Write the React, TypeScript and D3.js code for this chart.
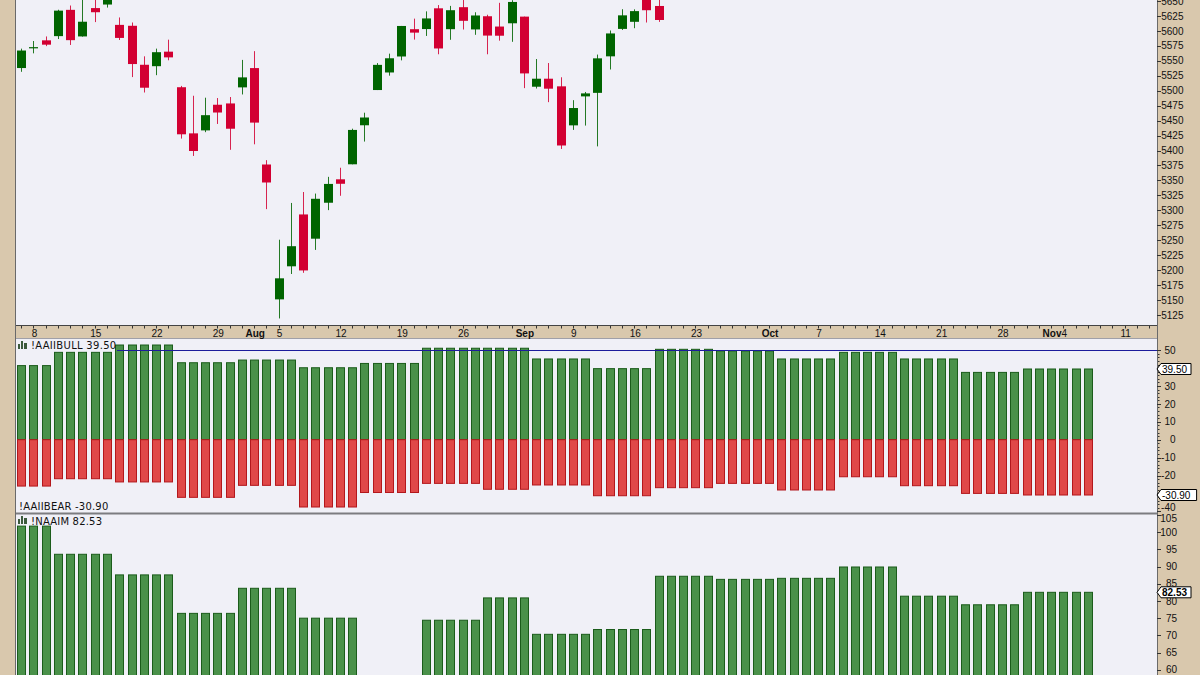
import React from "react";
import * as d3 from "d3";

// ---------- data ----------
const firstTradingDay = "2024-07-05";
const marketHolidays = ["2024-09-02"];

// S&P 500 daily OHLC (Jul 5 – Sep 18, 2024)
const candleOpen = [5537.91, 5572.75, 5584.24, 5591.26, 5635.21, 5590.76, 5638.16, 5644.09, 5610.07, 5608.56, 5543.37, 5541.0, 5565.3, 5505.84, 5428.7, 5433.67, 5476.55, 5478.73, 5505.59, 5537.84, 5376.63, 5151.14, 5206.42, 5293.13, 5252.57, 5312.7, 5351.88, 5376.98, 5442.22, 5501.13, 5530.5, 5557.23, 5602.88, 5603.09, 5637.77, 5602.89, 5639.66, 5602.47, 5624.51, 5607.3, 5612.74, 5623.89, 5506.68, 5520.08, 5507.33, 5442.07, 5490.51, 5496.42, 5557.48, 5603.34, 5615.21, 5655.51, 5641.68];
const candleHigh = [5570.33, 5583.11, 5590.75, 5635.39, 5642.45, 5655.56, 5666.94, 5669.67, 5622.49, 5614.05, 5557.5, 5570.36, 5585.34, 5508.04, 5491.59, 5488.32, 5487.74, 5489.46, 5551.51, 5566.16, 5383.89, 5250.89, 5312.34, 5330.64, 5328.03, 5356.0, 5371.2, 5436.5, 5463.22, 5546.23, 5561.98, 5608.3, 5620.51, 5632.68, 5643.22, 5641.82, 5651.62, 5631.18, 5627.03, 5646.95, 5651.37, 5623.89, 5552.99, 5546.3, 5522.47, 5484.2, 5497.91, 5560.41, 5600.71, 5636.27, 5636.05, 5670.81, 5689.75];
const candleLow = [5531.63, 5562.51, 5574.57, 5586.44, 5576.53, 5590.44, 5614.75, 5639.02, 5584.81, 5522.81, 5497.04, 5526.0, 5550.9, 5419.98, 5390.95, 5430.7, 5444.44, 5401.21, 5493.75, 5410.42, 5302.03, 5119.26, 5193.56, 5195.54, 5233.85, 5300.36, 5324.37, 5376.98, 5415.0, 5501.13, 5525.17, 5550.74, 5585.5, 5591.57, 5560.95, 5585.16, 5602.34, 5593.48, 5560.95, 5583.71, 5581.79, 5504.33, 5503.66, 5480.88, 5402.62, 5434.49, 5441.72, 5406.96, 5535.5, 5601.65, 5604.53, 5614.05, 5615.08];
const candleClose = [5567.19, 5572.85, 5576.98, 5633.91, 5584.54, 5615.35, 5631.22, 5667.2, 5588.27, 5544.59, 5505.0, 5564.41, 5555.74, 5427.13, 5399.22, 5459.1, 5463.54, 5436.44, 5522.3, 5446.68, 5346.56, 5186.33, 5240.03, 5199.5, 5319.31, 5344.16, 5344.39, 5434.43, 5455.21, 5543.22, 5554.25, 5608.25, 5597.12, 5620.85, 5570.64, 5634.61, 5616.84, 5625.8, 5592.18, 5591.96, 5648.4, 5528.93, 5520.07, 5503.41, 5408.42, 5471.05, 5495.52, 5554.13, 5595.76, 5626.02, 5633.09, 5634.58, 5618.26];

// weekly sentiment readings (each holds until the next reading)
const surveyWeeks = ["2024-07-03", "2024-07-10", "2024-07-17", "2024-07-24", "2024-07-31", "2024-08-07", "2024-08-14", "2024-08-21", "2024-08-28", "2024-09-04", "2024-09-11", "2024-09-18", "2024-09-25", "2024-10-02", "2024-10-09", "2024-10-16", "2024-10-23", "2024-10-30", "2024-11-06"];
const aaiiBull = [41.4, 48.8, 52.9, 43.0, 44.5, 40.2, 42.6, 51.1, 51.1, 45.1, 39.7, 50.5, 49.6, 45.1, 48.8, 45.1, 37.6, 39.5, 39.5];
const aaiiBear = [-25.9, -21.8, -23.6, -32.2, -25.5, -37.6, -29.5, -24.4, -27.7, -25.3, -31.3, -26.8, -24.4, -28.1, -20.7, -25.7, -30.0, -30.9, -30.9];
const naaim: (number | null)[] = [101.8, 93.6, 87.6, 76.4, 83.7, 75.0, null, 74.4, 80.9, 70.3, 71.7, 87.2, 86.3, 86.6, 89.9, 81.4, 78.9, 82.53, 82.53];
const lastBarDate = "2024-11-06";

const priceTicks = [5125, 5150, 5175, 5200, 5225, 5250, 5275, 5300, 5325, 5350, 5375, 5400, 5425, 5450, 5475, 5500, 5525, 5550, 5575, 5600, 5625, 5650];
const aaiiTicks = [50, 40, 30, 20, 10, 0, -10, -20, -30, -40];
const naaimTicks = [105, 100, 95, 90, 85, 80, 75, 70, 65, 60];
const dayTicks: [string, string][] = [["2024-07-08", "8"], ["2024-07-15", "15"], ["2024-07-22", "22"], ["2024-07-29", "29"], ["2024-08-05", "5"], ["2024-08-12", "12"], ["2024-08-19", "19"], ["2024-08-26", "26"], ["2024-09-09", "9"], ["2024-09-16", "16"], ["2024-09-23", "23"], ["2024-10-07", "7"], ["2024-10-14", "14"], ["2024-10-21", "21"], ["2024-10-28", "28"], ["2024-11-04", "4"], ["2024-11-11", "11"]];
const monthTicks: [string, string][] = [["2024-08-01", "Aug"], ["2024-09-03", "Sep"], ["2024-10-01", "Oct"], ["2024-11-01", "Nov"]];

// ---------- helpers ----------
function tradingDays(start: string, n: number): string[] {
  const out: string[] = [];
  const d = new Date(start + "T12:00:00Z");
  while (out.length < n) {
    const wd = d.getUTCDay();
    const iso = d.toISOString().slice(0, 10);
    if (wd !== 0 && wd !== 6 && !marketHolidays.includes(iso)) out.push(iso);
    d.setUTCDate(d.getUTCDate() + 1);
  }
  return out;
}

const days = tradingDays(firstTradingDay, 95);
const dayIndex = new Map(days.map((d, i) => [d, i]));
const nBars = (dayIndex.get(lastBarDate) as number) + 1;
const weekOf = (d: string) => d3.bisectRight(surveyWeeks, d) - 1;

// ---------- layout ----------
const W = 1200, H = 675;
const plotL = 16, plotR = 1157;
const priceBottom = 325;
const aaiiTop = 339, aaiiBottom = 513;
const naaimTop = 514, naaimBottom = 700;

const BG = "#f0f0f7";
const TAN = "#d9c8ad";
const UP = "#006400";
const DOWN = "#d20032";
const BAR_G = "#4a914a", BAR_G_S = "#1b5c1b";
const BAR_R = "#e04848", BAR_R_S = "#b3171c";
const AXIS_FONT = "Arial, 'Liberation Sans', sans-serif";
const TITLE_FONT = "'DejaVu Sans', Verdana, sans-serif";

const xs = d3.scaleLinear().domain([0, 87]).range([21.7, 1088.3]);
const yP = d3.scaleLinear().domain([5125, 5650]).range([315, 1]);
const yA = d3.scaleLinear().domain([-40, 50]).range([511.3, 350.2]);
const yN = d3.scaleLinear().domain([60, 100]).range([669.7, 532.3]);

function Icon({ x, y }: { x: number; y: number }) {
  return (
    <g fill="#3c5a3c">
      <rect x={x} y={y + 3} width={2} height={5} />
      <rect x={x + 3} y={y} width={2} height={8} />
      <rect x={x + 6} y={y + 2} width={3} height={6} />
    </g>
  );
}

function ValueBox({ y, text, bold }: { y: number; text: string; bold?: boolean }) {
  const w = text.length * 5.6 + 2;
  const x0 = plotR, x1 = plotR + 4;
  const d = `M${x0},${y} L${x1},${y - 5.5} L${x1 + w},${y - 5.5} L${x1 + w},${y + 5.5} L${x1},${y + 5.5} Z`;
  return (
    <g>
      <path d={d} fill="#fff" stroke="#000" strokeWidth={1} />
      <text x={x1 + 1} y={y + 3.6} fontFamily={AXIS_FONT} fontSize={10} fontWeight={bold ? "bold" : "normal"} fill="#000">{text}</text>
    </g>
  );
}

export default function App() {
  const barIdx = d3.range(nBars);
  const lastBull = aaiiBull[aaiiBull.length - 1];
  const lastBear = aaiiBear[aaiiBear.length - 1];
  const lastNaaim = naaim[naaim.length - 1] as number;
  const nDays = Math.ceil(xs.invert(plotR));
  // axis labels hidden under the value boxes (as in the original)
  const aaiiBoxYs = [yA(lastBull), yA(lastBear)];
  const aaiiVisible = aaiiTicks.filter((v) => aaiiBoxYs.every((by) => Math.abs(yA(v) - by) > 6));

  return (
    <svg width={W} height={H} style={{ position: "fixed", left: 0, top: 0, display: "block" }} xmlns="http://www.w3.org/2000/svg">
      <defs>
        <clipPath id="cpPrice"><rect x={plotL} y={0} width={plotR - plotL} height={priceBottom} /></clipPath>
        <clipPath id="cpAaii"><rect x={plotL} y={aaiiTop} width={plotR - plotL} height={aaiiBottom - aaiiTop} /></clipPath>
        <clipPath id="cpNaaim"><rect x={plotL} y={naaimTop} width={plotR - plotL} height={naaimBottom - naaimTop} /></clipPath>
      </defs>
      <rect x={0} y={0} width={W} height={H} fill={TAN} />
      {/* panels */}
      <rect x={plotL} y={0} width={plotR - plotL} height={priceBottom} fill={BG} />
      <rect x={plotL} y={aaiiTop} width={plotR - plotL} height={aaiiBottom - aaiiTop} fill={BG} />
      <rect x={plotL} y={naaimTop} width={plotR - plotL} height={naaimBottom - naaimTop} fill={BG} />

      {/* candles */}
      <g clipPath="url(#cpPrice)">
        {candleOpen.map((o, i) => {
          const c = candleClose[i];
          const cx = Math.floor(xs(i));
          const col = c >= o ? UP : DOWN;
          const top = yP(Math.max(o, c));
          const bot = yP(Math.min(o, c));
          return (
            <g key={i}>
              <rect x={cx} y={yP(candleHigh[i])} width={1} height={yP(candleLow[i]) - yP(candleHigh[i])} fill={col} opacity={0.85} />
              <rect x={cx - 4} y={top} width={9} height={Math.max(1.2, bot - top)} fill={col} />
            </g>
          );
        })}
      </g>

      {/* AAII bars */}
      <g clipPath="url(#cpAaii)">
        {barIdx.map((i) => {
          const w = weekOf(days[i]);
          const cx = Math.floor(xs(i));
          const b = aaiiBull[w], r = aaiiBear[w];
          return (
            <g key={i}>
              <rect x={cx - 3.5} y={yA(b)} width={8} height={yA(0) - yA(b)} fill={BAR_G} stroke={BAR_G_S} strokeWidth={1} />
              <rect x={cx - 3.5} y={yA(0)} width={8} height={yA(r) - yA(0)} fill={BAR_R} stroke={BAR_R_S} strokeWidth={1} />
            </g>
          );
        })}
        <line x1={117} x2={plotR} y1={Math.round(yA(50)) + 0.5} y2={Math.round(yA(50)) + 0.5} stroke="#1c1c9c" strokeWidth={1} />
      </g>

      {/* NAAIM bars */}
      <g clipPath="url(#cpNaaim)">
        {barIdx.map((i) => {
          const v = naaim[weekOf(days[i])];
          if (v == null) return null;
          const cx = Math.floor(xs(i));
          return <rect key={i} x={cx - 3.5} y={yN(v)} width={8} height={naaimBottom - yN(v)} fill={BAR_G} stroke={BAR_G_S} strokeWidth={1} />;
        })}
      </g>

      {/* borders */}
      <line x1={15.5} x2={15.5} y1={0} y2={H} stroke="#6a6a6a" strokeWidth={1} />
      <line x1={plotR + 0.5} x2={plotR + 0.5} y1={0} y2={H} stroke="#6a6a6a" strokeWidth={1} />
      <line x1={plotL} x2={plotR} y1={priceBottom + 0.5} y2={priceBottom + 0.5} stroke="#444" strokeWidth={1} />
      <line x1={plotL} x2={plotR} y1={aaiiTop - 0.5} y2={aaiiTop - 0.5} stroke="#a0a0a8" strokeWidth={1} />
      <line x1={plotL} x2={plotR} y1={aaiiBottom + 0.5} y2={aaiiBottom + 0.5} stroke="#7c7c80" strokeWidth={2} />

      {/* date band */}
      <g>
        {d3.range(nDays).map((i) => (
          <line key={i} x1={Math.floor(xs(i)) + 0.5} x2={Math.floor(xs(i)) + 0.5} y1={326} y2={328.5} stroke="#333" strokeWidth={1} />
        ))}
        {dayTicks.map(([d, lab]) => (
          <text key={d} x={xs(dayIndex.get(d) as number) + 0.5} y={336.5} textAnchor="middle" fontFamily={AXIS_FONT} fontSize={10} fill="#111">{lab}</text>
        ))}
        {monthTicks.map(([d, lab]) => (
          <text key={d} x={xs(dayIndex.get(d) as number) + 0.5} y={336.5} textAnchor="middle" fontFamily={AXIS_FONT} fontSize={10} fontWeight="bold" fill="#111">{lab}</text>
        ))}
      </g>

      {/* price axis */}
      <g>
        {priceTicks.map((v) => (
          <g key={v}>
            <line x1={plotR} x2={plotR + 4} y1={Math.round(yP(v)) + 0.5} y2={Math.round(yP(v)) + 0.5} stroke="#333" />
            <text x={1183.5} y={yP(v) + 3.6} textAnchor="end" fontFamily={AXIS_FONT} fontSize={10} fill="#111">{v}</text>
          </g>
        ))}
      </g>

      {/* AAII axis */}
      <g>
        {d3.range(-40, 51, 2).map((v) => (
          <line key={v} x1={plotR + 1} x2={plotR + 2.5} y1={Math.round(yA(v)) + 0.5} y2={Math.round(yA(v)) + 0.5} stroke="#333" />
        ))}
        {aaiiTicks.map((v) => (
          <line key={"t" + v} x1={plotR} x2={plotR + 4} y1={Math.round(yA(v)) + 0.5} y2={Math.round(yA(v)) + 0.5} stroke="#333" />
        ))}
        {aaiiVisible.map((v) => (
          <text key={v} x={1175.5} y={Math.min(yA(v) + 3.6, 511)} textAnchor="end" fontFamily={AXIS_FONT} fontSize={10} fill="#111">{v}</text>
        ))}
        <ValueBox y={yA(lastBull)} text={lastBull.toFixed(2)} />
        <ValueBox y={yA(lastBear)} text={lastBear.toFixed(2)} />
      </g>

      {/* NAAIM axis */}
      <g>
        {naaimTicks.map((v) => (
          <g key={v}>
            <line x1={plotR} x2={plotR + 4} y1={Math.round(yN(v)) + 0.5} y2={Math.round(yN(v)) + 0.5} stroke="#333" />
            <text x={1177} y={Math.max(yN(v) + 3.6, 522)} textAnchor="end" fontFamily={AXIS_FONT} fontSize={10} fill="#111">{v}</text>
          </g>
        ))}
        <ValueBox y={yN(lastNaaim)} text={lastNaaim.toFixed(2)} bold />
      </g>

      {/* titles */}
      <Icon x={18} y={341} />
      <text x={31} y={349} fontFamily={TITLE_FONT} fontSize={10} letterSpacing={0.3} fill="#111">{`!AAIIBULL ${lastBull.toFixed(2)}`}</text>
      <text x={19} y={510} fontFamily={TITLE_FONT} fontSize={10} letterSpacing={0.2} fill="#111">{`!AAIIBEAR ${lastBear.toFixed(2)}`}</text>
      <Icon x={18} y={516} />
      <text x={31} y={524.5} fontFamily={TITLE_FONT} fontSize={10} letterSpacing={0.2} fill="#111">{`!NAAIM ${lastNaaim.toFixed(2)}`}</text>
    </svg>
  );
}
